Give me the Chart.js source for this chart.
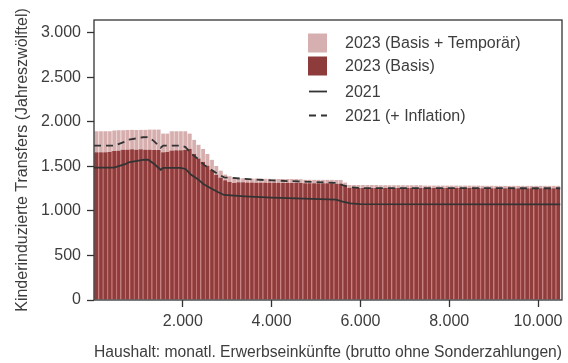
<!DOCTYPE html>
<html>
<head>
<meta charset="utf-8">
<script src="https://cdn.jsdelivr.net/npm/chart.js@4.4.1/dist/chart.umd.min.js"></script>
<style>
  html, body { margin: 0; padding: 0; background: #fff; }
  #wrap { width: 568px; height: 363px; }
</style>
</head>
<body>
<div id="wrap"><canvas id="transferChart" width="568" height="363"></canvas></div>
<script>
// Einkommensklassen (Untergrenze, 100er Schritte)
const binStart = [
  0,100,200,300,400,500,600,700,800,900,
  1000,1100,1200,1300,1400,1500,1600,1700,1800,1900,
  2000,2100,2200,2300,2400,2500,2600,2700,2800,2900,
  3000,3100,3200,3300,3400,3500,3600,3700,3800,3900,
  4000,4100,4200,4300,4400,4500,4600,4700,4800,4900,
  5000,5100,5200,5300,5400,5500,5600,5700,5800,5900,
  6000,6100,6200,6300,6400,6500,6600,6700,6800,6900,
  7000,7100,7200,7300,7400,7500,7600,7700,7800,7900,
  8000,8100,8200,8300,8400,8500,8600,8700,8800,8900,
  9000,9100,9200,9300,9400,9500,9600,9700,9800,9900,
  10000,10100,10200,10300,10400
];
const binWidth = 100;

// 2023 Basis
const basis2023 = [
  1660,1660,1660,1662,1675,1678,1690,1690,1692,1690,
  1692,1690,1690,1688,1688,1660,1662,1680,1682,1682,
  1685,1700,1640,1590,1550,1510,1460,1410,1375,1345,
  1325,1315,1322,1322,1321,1321,1320,1320,1320,1319,
  1319,1318,1318,1318,1317,1317,1316,1312,1312,1311,
  1311,1310,1310,1310,1309,1309,1285,1262,1262,1262,
  1261,1261,1261,1261,1260,1260,1260,1260,1260,1259,
  1259,1259,1259,1259,1258,1258,1258,1258,1258,1258,
  1257,1257,1257,1257,1257,1257,1257,1256,1256,1256,
  1256,1256,1256,1256,1256,1255,1255,1255,1255,1255,
  1255,1255,1255,1255,1255
];
// 2023 temporaere Zahlungen (auf Basis gestapelt)
const temp2023 = [
  235,235,235,233,230,230,218,220,220,220,
  220,222,225,227,227,210,208,215,213,213,
  210,170,160,155,145,130,115,95,80,65,
  65,60,45,45,45,44,44,44,43,43,
  43,42,42,42,41,41,41,40,40,40,
  40,40,40,40,40,40,35,30,30,30,
  30,30,30,30,30,29,29,29,29,29,
  29,29,29,29,28,28,28,28,28,28,
  28,28,28,28,28,28,28,28,28,28,
  27,27,27,27,27,27,27,27,27,27,
  27,27,27,27,27
];

// 2021 Vergleichslinien
const x2021 = [0,450,700,780,1100,1220,1350,1500,1560,1950,2060,2180,2330,2470,2650,2800,2930,3400,4000,5450,5600,5780,6000,10500];
const y2021 = [1487,1487,1525,1545,1573,1575,1530,1463,1485,1485,1472,1410,1360,1300,1250,1210,1180,1165,1150,1128,1105,1085,1077,1075];
const y2021Infl = [1734,1734,1778,1800,1828,1830,1785,1710,1735,1735,1718,1648,1590,1520,1460,1412,1378,1360,1343,1316,1290,1266,1257,1255];

const xTicks = [2000,4000,6000,8000,10000];
const yTicks = [0,500,1000,1500,2000,2500,3000];

const textCol = '#3d3d3d';
const font = { family: "'Liberation Sans', Arial, sans-serif", size: 16 };

function fmt(v) {
  return String(v).replace(/\B(?=(\d{3})+(?!\d))/g, '.');
}
function bars(vals) {
  return vals.map((v, i) => ({ x: binStart[i] + binWidth / 2, y: v }));
}
function pts(xs, ys) {
  return xs.map((x, i) => ({ x: x, y: ys[i] }));
}

// Rahmen + Legende oben rechts
const frameAndLegend = {
  id: 'frameAndLegend',
  afterDraw(chart) {
    const { ctx, chartArea: a } = chart;
    const ds = chart.data.datasets;
    ctx.save();
    ctx.strokeStyle = '#333';
    ctx.lineWidth = 1.3;
    ctx.strokeRect(a.left, a.top, a.right - a.left, a.bottom - a.top);

    const items = [ds[3], ds[2], ds[0], ds[1]];
    const rows = [43, 66, 91.5, 115.5];
    const x0 = 308, sw = 19;
    ctx.font = "16px 'Liberation Sans', Arial, sans-serif";
    ctx.textBaseline = 'middle';
    items.forEach((d, i) => {
      const y = rows[i];
      if (d.type === 'line') {
        ctx.strokeStyle = d.borderColor;
        ctx.lineWidth = d.borderWidth;
        ctx.setLineDash(d.borderDash || []);
        ctx.beginPath();
        ctx.moveTo(x0 + 1, y);
        ctx.lineTo(x0 + sw, y);
        ctx.stroke();
        ctx.setLineDash([]);
      } else {
        ctx.fillStyle = d.legendColor;
        ctx.fillRect(x0, y - sw / 2, sw, sw);
      }
      ctx.fillStyle = textCol;
      ctx.fillText(d.label, 345, y + 1);
    });
    ctx.restore();
  }
};

const ctx = document.getElementById('transferChart');

new Chart(ctx, {
  type: 'bar',
  data: {
    datasets: [
      {
        type: 'line', label: '2021', data: pts(x2021, y2021),
        borderColor: '#333', borderWidth: 1.8, pointRadius: 0, tension: 0,
        stack: 'l2021', order: 0
      },
      {
        type: 'line', label: '2021 (+ Inflation)', data: pts(x2021, y2021Infl),
        borderColor: '#333', borderWidth: 1.8, borderDash: [7, 5], pointRadius: 0, tension: 0,
        stack: 'l2021i', order: 1
      },
      {
        label: '2023 (Basis)', data: bars(basis2023),
        backgroundColor: '#8f3c3c', borderColor: '#c57272', legendColor: '#8e3b3b',
        borderWidth: { left: 1.2 }, barPercentage: 1, categoryPercentage: 1, order: 2
      },
      {
        label: '2023 (Basis + Temporär)', data: bars(temp2023),
        backgroundColor: '#d6aeae', borderColor: '#ecd3d3', legendColor: '#d6b0b0',
        borderWidth: { left: 1.2 }, barPercentage: 1, categoryPercentage: 1, order: 3
      }
    ]
  },
  options: {
    responsive: false,
    animation: false,
    devicePixelRatio: 1,
    layout: { padding: { top: 20, right: 6, left: 0, bottom: 0 } },
    plugins: { legend: { display: false }, tooltip: { enabled: false } },
    scales: {
      x: {
        type: 'linear', min: 0, max: 10540, stacked: true, offset: false,
        afterBuildTicks: s => { s.ticks = xTicks.map(v => ({ value: v })); },
        afterFit: s => { s.height = 63; },
        ticks: { callback: fmt, color: textCol, font: font, padding: 5, maxRotation: 0, autoSkip: false },
        grid: { drawOnChartArea: false, tickLength: 7, tickColor: '#333', tickWidth: 1.3, offset: false },
        border: { display: false },
        title: {
          display: true, text: 'Haushalt: monatl. Erwerbseinkünfte (brutto ohne Sonderzahlungen)',
          color: textCol, font: font, padding: { top: 0, bottom: 1 }
        }
      },
      y: {
        min: 0, max: 3145, stacked: true,
        afterBuildTicks: s => { s.ticks = yTicks.map(v => ({ value: v })); },
        afterFit: s => { s.width = 94; },
        ticks: { callback: fmt, color: textCol, font: font, padding: 6 },
        grid: { drawOnChartArea: false, tickLength: 7, tickColor: '#333', tickWidth: 1.3 },
        border: { display: false },
        title: {
          display: true, text: 'Kinderinduzierte Transfers (Jahreszwölftel)',
          color: textCol, font: font, padding: { top: 13, bottom: 0 }
        }
      }
    }
  },
  plugins: [frameAndLegend]
});
</script>
</body>
</html>
